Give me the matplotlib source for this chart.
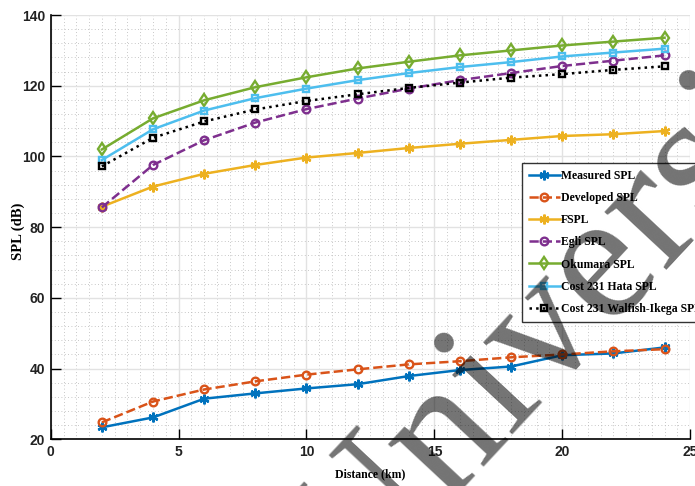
import numpy as np
import matplotlib
matplotlib.use("Agg")
import matplotlib.pyplot as plt
from matplotlib.ticker import MultipleLocator

dist = [2, 4, 6, 8, 10, 12, 14, 16, 18, 20, 22, 24]
measured = [23.4, 26.2, 31.5, 33.0, 34.4, 35.6, 37.9, 39.6, 40.6, 43.8, 44.3, 46.0]
developed = [24.8, 30.7, 34.1, 36.4, 38.3, 39.8, 41.2, 42.1, 43.2, 44.0, 44.9, 45.5]
fspl = [85.8, 91.5, 95.1, 97.6, 99.7, 101.0, 102.4, 103.6, 104.7, 105.8, 106.3, 107.2]
egli = [85.6, 97.6, 104.6, 109.6, 113.4, 116.4, 119.2, 121.6, 123.6, 125.6, 127.1, 128.6]
okumara = [102.0, 110.8, 115.9, 119.6, 122.4, 124.9, 126.8, 128.6, 130.0, 131.4, 132.5, 133.6]
hata = [99.0, 107.7, 113.0, 116.5, 119.2, 121.6, 123.6, 125.3, 126.7, 128.3, 129.4, 130.5]
walfish = [97.2, 105.3, 109.9, 113.3, 115.7, 117.6, 119.4, 120.9, 122.3, 123.3, 124.5, 125.5]

# name, values, colour, linestyle, marker, marker size
series = [
    ("Measured SPL", measured, "#0072BD", "-", (6, 2, 0), 7),
    ("Developed SPL", developed, "#D95319", "--", "o", 5.5),
    ("FSPL", fspl, "#EDB120", "-", (6, 2, 0), 7),
    ("Egli SPL", egli, "#7E2F8E", "--", "o", 5.5),
    ("Okumara SPL", okumara, "#77AC30", "-", "d", 6),
    ("Cost 231 Hata SPL", hata, "#4DBEEE", "-", "s", 5),
    ("Cost 231 Walfish-Ikega SPL", walfish, "k", ":", "s", 5),
]

fig = plt.figure(figsize=(6.95, 4.86), dpi=100)
ax = fig.add_axes([0.073, 0.096, 0.920, 0.873])

for name, vals, c, ls, mk, ms in series:
    ax.plot(dist, vals, color=c, ls=ls, lw=1.8, marker=mk, ms=ms,
            mfc="none", mec=c, mew=1.7, label=name)

ax.set_xlim(0, 25)
ax.set_ylim(20, 140)
ax.xaxis.set_major_locator(MultipleLocator(5))
ax.xaxis.set_minor_locator(MultipleLocator(0.5))
ax.yaxis.set_major_locator(MultipleLocator(20))
ax.yaxis.set_minor_locator(MultipleLocator(4))
ax.grid(which="major", color="#e2e2e2", lw=1.0, ls="-")
ax.grid(which="minor", color="#b5b5b5", lw=0.6, ls=(0, (1, 3)))
ax.set_axisbelow(True)
ax.tick_params(which="major", direction="in", length=7, width=1.0, pad=4)
ax.tick_params(which="minor", length=0)
ax.spines["top"].set_visible(False)
ax.spines["right"].set_visible(False)
for s in ("left", "bottom"):
    ax.spines[s].set_linewidth(1.2)
for lab in ax.get_xticklabels() + ax.get_yticklabels():
    lab.set_family(["Liberation Sans", "DejaVu Sans"])
    lab.set_fontweight("bold")
    lab.set_fontsize(10)
    lab.set_color("#222222")

ax.set_xlabel("Distance (km)", family="Liberation Serif", weight="bold", fontsize=8.5, labelpad=7)
ax.set_ylabel("SPL (dB)", family="Liberation Serif", weight="bold", fontsize=10.5)
ax.yaxis.set_label_coords(-0.040, 0.49)

leg = ax.legend(loc="upper left", bbox_to_anchor=(0.751, 0.665), bbox_transform=fig.transFigure,
                prop={"family": "Liberation Serif", "weight": "bold", "size": 8.5},
                fancybox=False, framealpha=1, edgecolor="#333333", borderaxespad=0,
                handlelength=2.6, handletextpad=0.1, labelspacing=0.86, borderpad=0.6)
leg.get_frame().set_linewidth(1.0)

# watermark
fig.text(0.511, -0.2325, "University", rotation=47, rotation_mode="anchor",
         ha="left", va="baseline", fontsize=133, family="Liberation Serif",
         color="k", alpha=0.55, zorder=10)

fig.savefig("out.png", dpi=100)
